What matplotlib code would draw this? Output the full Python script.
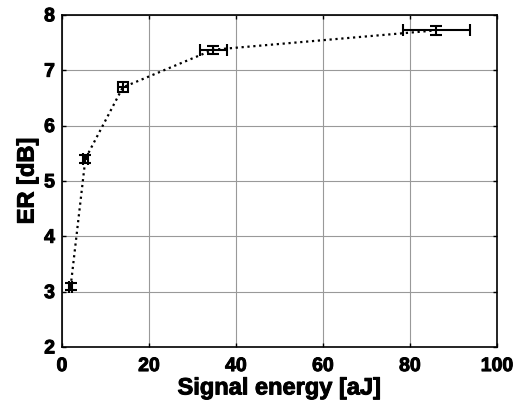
import matplotlib
matplotlib.use("Agg")
import matplotlib.pyplot as plt
import matplotlib.patheffects as pe
import numpy as np

# signal energy vs extinction ratio
energy = [2.0, 5.4, 14.0, 34.8, 86.1]
energy_err = [0.4, 0.5, 1.2, 3.1, 7.8]
er = [3.09, 5.40, 6.69, 7.37, 7.72]
er_err = [0.06, 0.07, 0.09, 0.07, 0.08]

plt.rcParams['font.family'] = ['Liberation Sans', 'DejaVu Sans']
plt.rcParams['font.weight'] = 'bold'

fig = plt.figure(figsize=(5.16, 4.06), dpi=100)
ax = fig.add_axes([0.120, 0.143, 0.843, 0.818])

ax.errorbar(energy, er, xerr=energy_err, yerr=er_err, color='black',
            linestyle=':', linewidth=1.6, ecolor='black', elinewidth=1.5,
            capsize=4, capthick=1.5)

ax.set_xlim(0, 100)
ax.set_ylim(2, 8)
ax.set_xticks(np.arange(0, 101, 20))
ax.set_yticks(np.arange(2, 9, 1))
ax.grid(True, color='#999999', linewidth=0.8, linestyle='-')
ax.set_axisbelow(True)
ax.tick_params(direction='in', top=True, right=True, length=3, width=1,
               labelsize=14)
ax.tick_params(axis='x', pad=8)
ax.tick_params(axis='y', pad=5)
# heavier strokes, like the original export
thick = [pe.withStroke(linewidth=0.7, foreground='black')]
for lab in ax.get_xticklabels() + ax.get_yticklabels():
    lab.set_fontweight('bold')
    lab.set_path_effects(thick)
for sp in ax.spines.values():
    sp.set_linewidth(1.2)

ax.set_xlabel('Signal energy [aJ]', fontsize=17, fontweight='bold', labelpad=1,
              path_effects=thick)
ax.set_ylabel('ER [dB]', fontsize=17, fontweight='bold', labelpad=4,
              path_effects=thick)

fig.savefig('out.png', dpi=100)
